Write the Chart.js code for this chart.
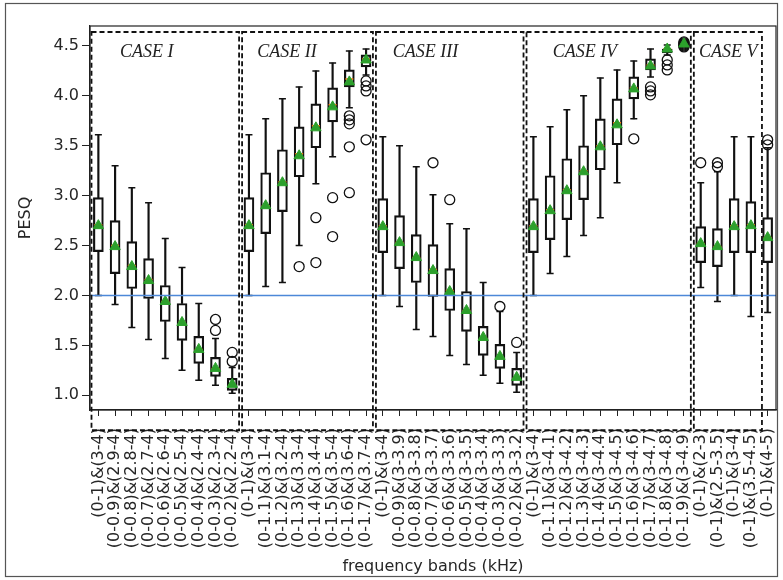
<!DOCTYPE html>
<html>
<head>
<meta charset="utf-8">
<script src="https://cdn.jsdelivr.net/npm/chart.js@4.4.0/dist/chart.umd.min.js"></script>
<style>
html, body { margin: 0; padding: 0; background: #fff; }
</style>
</head>
<body>
<canvas id="pesq_chart" width="783" height="580"></canvas>
<script>
// 帯域ラベル
const band_labels = [
    '(0-1)&(3-4)', '(0-0.9)&(2.9-4)', '(0-0.8)&(2.8-4)', '(0-0.7)&(2.7-4)', '(0-0.6)&(2.6-4)',
    '(0-0.5)&(2.5-4)', '(0-0.4)&(2.4-4)', '(0-0.3)&(2.3-4)', '(0-0.2)&(2.2-4)',
    '(0-1)&(3-4)', '(0-1.1)&(3.1-4)', '(0-1.2)&(3.2-4)', '(0-1.3)&(3.3-4)', '(0-1.4)&(3.4-4)',
    '(0-1.5)&(3.5-4)', '(0-1.6)&(3.6-4)', '(0-1.7)&(3.7-4)',
    '(0-1)&(3-4)', '(0-0.9)&(3-3.9)', '(0-0.8)&(3-3.8)', '(0-0.7)&(3-3.7)', '(0-0.6)&(3-3.6)',
    '(0-0.5)&(3-3.5)', '(0-0.4)&(3-3.4)', '(0-0.3)&(3-3.3)', '(0-0.2)&(3-3.2)',
    '(0-1)&(3-4)', '(0-1.1)&(3-4.1)', '(0-1.2)&(3-4.2)', '(0-1.3)&(3-4.3)', '(0-1.4)&(3-4.4)',
    '(0-1.5)&(3-4.5)', '(0-1.6)&(3-4.6)', '(0-1.7)&(3-4.7)', '(0-1.8)&(3-4.8)', '(0-1.9)&(3-4.9)',
    '(0-1)&(2-3)', '(0-1)&(2.5-3.5)', '(0-1)&(3-4)', '(0-1)&(3.5-4.5)', '(0-1)&(4-5)'
];
const case_names = ['CASE I', 'CASE II', 'CASE III', 'CASE IV', 'CASE V'];
const y_ticks = [1.0, 1.5, 2.0, 2.5, 3.0, 3.5, 4.0, 4.5];
const threshold = 2.0;

// 箱ひげ図の値
const whisker_lo = [2.00, 1.91, 1.68, 1.56, 1.37, 1.25, 1.15, 1.10, 1.02,
    2.00, 2.09, 2.13, 2.50, 3.12, 3.39, 3.88, 4.21,
    2.00, 1.89, 1.66, 1.59, 1.40, 1.31, 1.20, 1.12, 1.03,
    2.00, 2.22, 2.39, 2.60, 2.78, 3.13, 3.77, 4.19, 4.41, 4.52,
    2.08, 1.94, 2.00, 1.79, 1.83];
const q1 = [2.44, 2.22, 2.07, 1.97, 1.74, 1.55, 1.32, 1.19, 1.05,
    2.44, 2.62, 2.84, 3.19, 3.48, 3.74, 4.09, 4.29,
    2.43, 2.27, 2.13, 1.99, 1.85, 1.64, 1.40, 1.27, 1.10,
    2.43, 2.56, 2.76, 2.96, 3.26, 3.51, 3.97, 4.26, 4.43, 4.52,
    2.33, 2.29, 2.43, 2.43, 2.33];
const medians = [2.71, 2.50, 2.30, 2.16, 1.94, 1.73, 1.46, 1.27, 1.10,
    2.71, 2.90, 3.14, 3.42, 3.70, 3.91, 4.17, 4.37,
    2.70, 2.53, 2.38, 2.26, 2.05, 1.85, 1.57, 1.38, 1.17,
    2.70, 2.86, 3.06, 3.25, 3.50, 3.73, 4.08, 4.31, 4.47, 4.52,
    2.52, 2.49, 2.70, 2.71, 2.58];
const q3 = [2.98, 2.75, 2.54, 2.37, 2.10, 1.92, 1.59, 1.38, 1.17,
    2.98, 3.23, 3.46, 3.69, 3.92, 4.08, 4.26, 4.41,
    2.97, 2.80, 2.61, 2.51, 2.27, 2.04, 1.69, 1.51, 1.27,
    2.97, 3.20, 3.37, 3.50, 3.77, 3.97, 4.19, 4.37, 4.47, 4.52,
    2.69, 2.67, 2.97, 2.94, 2.78];
const whisker_hi = [3.61, 3.30, 3.08, 2.93, 2.57, 2.28, 1.92, 1.57, 1.28,
    3.61, 3.77, 3.97, 4.09, 4.25, 4.33, 4.45, 4.47,
    3.59, 3.50, 3.29, 3.01, 2.72, 2.67, 2.13, 1.84, 1.43,
    3.59, 3.69, 3.86, 4.00, 4.18, 4.26, 4.35, 4.47, 4.51, 4.52,
    3.13, 3.24, 3.59, 3.59, 3.48];
const means = [2.70, 2.49, 2.29, 2.15, 1.94, 1.73, 1.46, 1.27, 1.11,
    2.70, 2.90, 3.13, 3.40, 3.68, 3.89, 4.14, 4.36,
    2.69, 2.53, 2.38, 2.25, 2.04, 1.85, 1.58, 1.39, 1.18,
    2.69, 2.85, 3.05, 3.24, 3.49, 3.71, 4.07, 4.30, 4.47, 4.52,
    2.52, 2.49, 2.69, 2.70, 2.58];
// 外れ値
const fliers = [[], [], [], [], [], [], [], [1.65, 1.76], [1.34, 1.43],
    [], [], [], [2.29], [2.33, 2.78], [2.59, 2.98], [3.03, 3.49, 3.72, 3.76, 3.80], [3.56, 4.05, 4.10, 4.15],
    [], [], [], [3.33], [2.96], [], [], [1.89], [1.53],
    [], [], [], [], [], [], [3.57], [4.01, 4.05, 4.09], [4.26, 4.31, 4.36], [4.49, 4.50, 4.51, 4.52, 4.53, 4.54],
    [3.33], [3.29, 3.33], [], [], [3.51, 3.56]];

// 表示用データを作成
const lower_whisker_data = band_labels.map((l, i) => [whisker_lo[i], q1[i]]);
const upper_whisker_data = band_labels.map((l, i) => [q3[i], whisker_hi[i]]);
const box_data = band_labels.map((l, i) => [q1[i], q3[i]]);
const max_fliers = Math.max(...fliers.map(f => f.length));
const flier_sets = [];
for (let k = 0; k < max_fliers; k++) {
    flier_sets.push({
        type: 'line', showLine: false, order: 1,
        data: fliers.map(f => f.length > k ? f[k] : null),
        pointStyle: 'circle', pointRadius: 5, pointBorderWidth: 1.3,
        pointBackgroundColor: 'rgba(0,0,0,0)', pointBorderColor: '#111'
    });
}

// ケース枠と注釈
const case_overlay = {
    id: 'case_overlay',
    beforeDraw(chart) {
        const ctx = chart.ctx;
        ctx.save();
        ctx.fillStyle = '#fff';
        ctx.fillRect(0, 0, chart.width, chart.height);
        ctx.strokeStyle = '#555';
        ctx.lineWidth = 1.2;
        ctx.strokeRect(5.5, 3.5, chart.width - 11, chart.height - 7);
        ctx.restore();
    },
    afterDraw(chart) {
        const ctx = chart.ctx;
        const xs = chart.scales.x, ys = chart.scales.y;
        const area = chart.chartArea;
        ctx.save();
        // 基準線
        ctx.strokeStyle = '#4d88d8';
        ctx.lineWidth = 1.4;
        const ty = ys.getPixelForValue(threshold);
        ctx.beginPath();
        ctx.moveTo(area.left, ty);
        ctx.lineTo(area.right, ty);
        ctx.stroke();
        // 枠線
        ctx.strokeStyle = '#222';
        ctx.lineWidth = 1.2;
        ctx.strokeRect(area.left, area.top, area.right - area.left, area.bottom - area.top);
        // ケースの点線枠
        const bounds = [[-0.5, 8.5], [8.5, 16.5], [16.5, 25.5], [25.5, 35.5], [35.5, 39.75]];
        const text_pos = [1.3, 9.5, 17.6, 27.15, 35.9];
        const top = ys.getPixelForValue(4.64);
        const bottom = ys.getPixelForValue(0.65);
        ctx.strokeStyle = '#111';
        ctx.lineWidth = 1.8;
        ctx.setLineDash([5, 3]);
        bounds.forEach(b => {
            const x1 = xs.getPixelForValue(b[0]) + 1.5;
            const x2 = xs.getPixelForValue(b[1]) - 1.5;
            ctx.strokeRect(x1, top, x2 - x1, bottom - top);
        });
        ctx.setLineDash([]);
        ctx.fillStyle = '#222';
        ctx.font = 'italic 18px "Liberation Serif"';
        ctx.textBaseline = 'alphabetic';
        case_names.forEach((name, i) => {
            ctx.fillText(name, xs.getPixelForValue(text_pos[i]), ys.getPixelForValue(4.39));
        });
        ctx.restore();
    }
};

const pesq_chart = new Chart(document.getElementById('pesq_chart').getContext('2d'), {
    type: 'bar',
    data: {
        labels: band_labels,
        datasets: [
            { data: lower_whisker_data, grouped: false, order: 6, backgroundColor: '#111', borderWidth: 0, barThickness: 1.5 },
            { data: upper_whisker_data, grouped: false, order: 6, backgroundColor: '#111', borderWidth: 0, barThickness: 1.5 },
            { data: box_data, grouped: false, order: 5, backgroundColor: 'rgba(255,255,255,0)', borderColor: '#111',
              borderWidth: 1.5, borderSkipped: false, barThickness: 10 },
            { type: 'line', showLine: false, order: 4, data: whisker_lo, pointStyle: 'line', pointRadius: 3.5,
              pointBorderWidth: 1.5, pointBorderColor: '#111' },
            { type: 'line', showLine: false, order: 4, data: whisker_hi, pointStyle: 'line', pointRadius: 3.5,
              pointBorderWidth: 1.5, pointBorderColor: '#111' },
            { type: 'line', showLine: false, order: 3, data: medians, pointStyle: 'line', pointRadius: 4,
              pointBorderWidth: 1.5, pointBorderColor: '#ff7f0e' },
            ...flier_sets,
            { type: 'line', showLine: false, order: 0, data: means, pointStyle: 'triangle', pointRadius: 6,
              pointBorderWidth: 1, pointBackgroundColor: '#2ca02c', pointBorderColor: '#2ca02c' }
        ]
    },
    options: {
        responsive: false,
        animation: false,
        events: [],
        layout: { padding: { top: 26, right: 5, left: 12, bottom: 0 } },
        plugins: { legend: { display: false }, tooltip: { enabled: false } },
        scales: {
            x: {
                offset: true,
                grid: { drawOnChartArea: false, drawTicks: true, tickLength: 6, tickColor: '#222', offset: false },
                border: { display: true, color: '#222', width: 1.2 },
                ticks: { autoSkip: false, minRotation: 90, maxRotation: 90, padding: 12, color: '#262626',
                         font: { family: 'DejaVu Sans', size: 16 } },
                title: { display: true, text: 'frequency bands (kHz)', color: '#262626', padding: { top: 4, bottom: 4 },
                         font: { family: 'DejaVu Sans', size: 16 } },
                afterFit: function (scale) {
                    scale.height = 170;
                    scale.paddingRight = 0;
                    scale.paddingLeft = 0;
                }
            },
            y: {
                min: 0.853,
                max: 4.70,
                grid: { drawOnChartArea: false, drawTicks: true, tickLength: 8, tickColor: '#222' },
                border: { display: true, color: '#222', width: 1.2 },
                ticks: { padding: 3, color: '#262626', font: { family: 'DejaVu Sans', size: 16 },
                         callback: v => v.toFixed(1) },
                afterBuildTicks: function (axis) { axis.ticks = y_ticks.map(v => ({ value: v })); },
                title: { display: true, text: 'PESQ', color: '#262626', padding: { top: 4, bottom: 4 },
                         font: { family: 'DejaVu Sans', size: 16 } },
                afterFit: function (scale) { scale.width = 78; }
            }
        }
    },
    plugins: [case_overlay]
});
</script>
</body>
</html>
